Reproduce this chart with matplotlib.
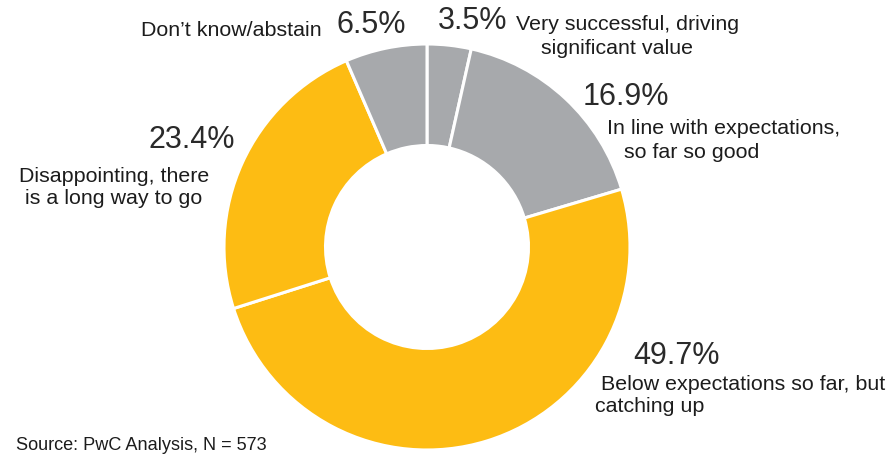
import matplotlib
matplotlib.use("Agg")
import matplotlib.pyplot as plt

categories = ["Very successful, driving\nsignificant value",
              "In line with expectations,\nso far so good",
              "Below expectations so far, but\ncatching up",
              "Disappointing, there\nis a long way to go",
              "Don\u2019t know/abstain"]
values = [3.5, 16.9, 49.7, 23.4, 6.5]
colors = ["#A7A9AC", "#A7A9AC", "#FDBC13", "#FDBC13", "#A7A9AC"]
source = "Source: PwC Analysis, N = 573"

W, H = 893, 454
fig = plt.figure(figsize=(W / 100, H / 100), dpi=100)
ax = fig.add_axes([0, 0, 1, 1])
ax.set_xlim(0, W)
ax.set_ylim(0, H)
ax.set_aspect("equal")
ax.axis("off")

cx, cy, R = 427, H - 247, 203
ax.pie(values, colors=colors, startangle=90, counterclock=False,
       center=(cx, cy), radius=R,
       wedgeprops=dict(width=R * 0.5, edgecolor="white", linewidth=2.2))
ax.set_xlim(0, W)
ax.set_ylim(0, H)

fam = ["Liberation Sans", "DejaVu Sans"]
lab = 15.4
pct = 22
c = "#1c1c1c"
cp = "#2a2a2a"

def t(x, y, s, size, ha="left", color=c):
    ax.text(x, H - y, s, fontsize=size, ha=ha, va="center", family=fam, color=color)

pcts = [f"{v}%" for v in values]
# Very successful
t(438, 21, pcts[0], pct, color=cp)
lines = categories[0].split("\n")
t(516, 24, lines[0], lab)
t(541, 48, lines[1], lab)
# In line
t(583, 97, pcts[1], pct, color=cp)
lines = categories[1].split("\n")
t(607, 129, lines[0], lab)
t(624, 153, lines[1], lab)
# Below
t(633, 356, pcts[2], pct, color=cp)
lines = categories[2].split("\n")
t(601, 385, lines[0], lab)
t(595, 407, lines[1], lab)
# Disappointing
t(235, 140, pcts[3], pct, ha="right", color=cp)
lines = categories[3].split("\n")
t(114, 176, lines[0], lab, ha="center")
t(114, 199, lines[1], lab, ha="center")
# Don't know
t(336, 25, pcts[4], pct, color=cp)
t(322, 30, categories[4], lab, ha="right")
# Source
t(16, 446, source, 13.1)

fig.savefig("out.png", dpi=100)
